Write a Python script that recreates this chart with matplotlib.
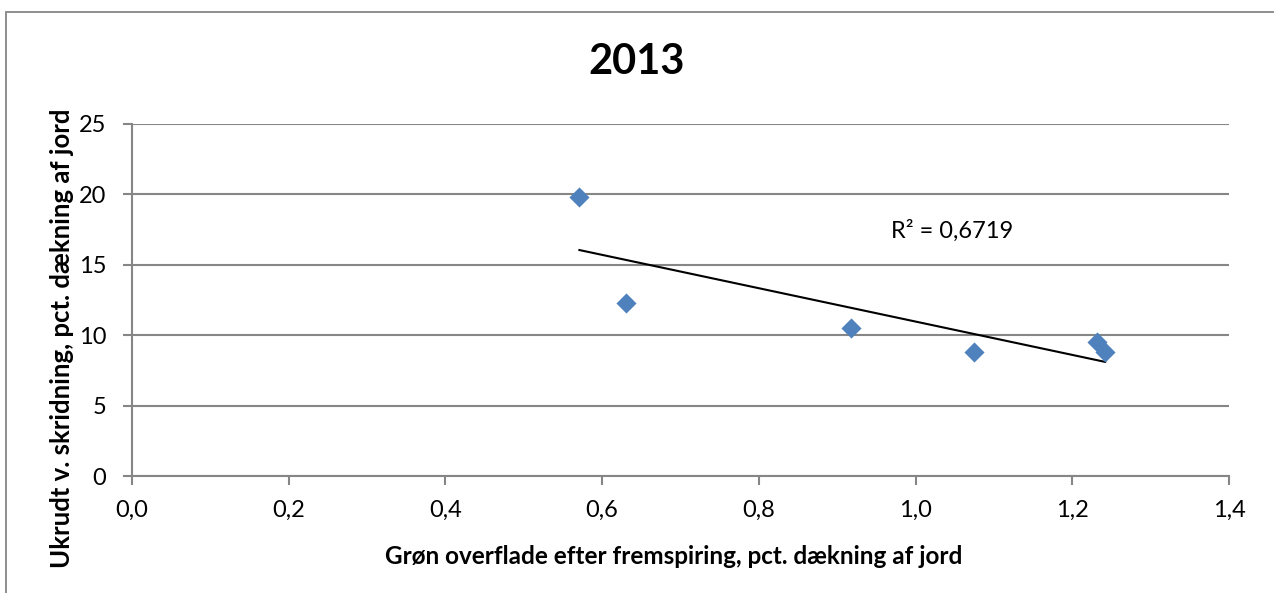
import numpy as np
import matplotlib
matplotlib.use("Agg")
import matplotlib.pyplot as plt
from matplotlib.patches import Rectangle
from matplotlib.ticker import FuncFormatter

plt.rcParams['font.family'] = ['Lato', 'DejaVu Sans']

# data
green_cover = [0.571, 0.631, 0.918, 1.075, 1.232, 1.242]
weeds = [19.79, 12.31, 10.53, 8.78, 9.54, 8.78]
r2_label = "R² = 0,6719"
title = "2013"
xlabel = "Grøn overflade efter fremspiring, pct. dækning af jord"
ylabel = "Ukrudt v. skridning, pct. dækning af jord"
x_ticks = [0.0, 0.2, 0.4, 0.6, 0.8, 1.0, 1.2, 1.4]
y_ticks = [0, 5, 10, 15, 20, 25]

fig = plt.figure(figsize=(12.74, 5.93), dpi=100)
ax = fig.add_axes([0.1036, 0.1973, 0.8611, 0.5936])

grey = '#868686'

# outer chart frame (top and left edge visible)
fig.patches.append(Rectangle((6 / 1274, -0.1), 1.2, 1.1 - 12 / 593,
                             transform=fig.transFigure, fill=False,
                             edgecolor=grey, linewidth=1.3))

ax.scatter(green_cover, weeds, marker='D', s=105, color='#4F81BD',
           linewidths=0, zorder=3)

# linear trend line
k, m = np.polyfit(green_cover, weeds, 1)
xs = np.array([min(green_cover), max(green_cover)])
ax.plot(xs, k * xs + m, color='black', linewidth=1.5, zorder=2)

ax.text(1.047, 17.45, r2_label, fontsize=17, ha='center', va='center')

ax.set_xlim(0, 1.4)
ax.set_ylim(0, 25)
ax.set_xticks(x_ticks)
ax.set_yticks(y_ticks)
ax.xaxis.set_major_formatter(FuncFormatter(lambda v, p: f"{v:.1f}".replace('.', ',')))
ax.yaxis.grid(True, color=grey, linewidth=1.5)
ax.set_axisbelow(True)
for s in ['top', 'right']:
    ax.spines[s].set_visible(False)
for s in ['left', 'bottom']:
    ax.spines[s].set_color(grey)
    ax.spines[s].set_linewidth(1.5)
ax.tick_params(axis='both', colors=grey, labelcolor='black', labelsize=17,
               width=1.5, length=6.5, direction='out')
ax.tick_params(axis='x', pad=11)
ax.tick_params(axis='y', pad=12)

fig.text(0.5 * (132 + 1229) / 1274 - 0.005, 1 - 556 / 593, xlabel, fontsize=17.5,
         fontweight='bold', ha='center', va='center')
fig.text(62 / 1274, 1 - 338 / 593, ylabel, fontsize=18.5, fontweight='bold',
         ha='center', va='center', rotation=90)
fig.text(0.5, 1 - 62 / 593, title, fontsize=30, fontweight='bold',
         ha='center', va='center')

fig.savefig('out.png', dpi=100)
